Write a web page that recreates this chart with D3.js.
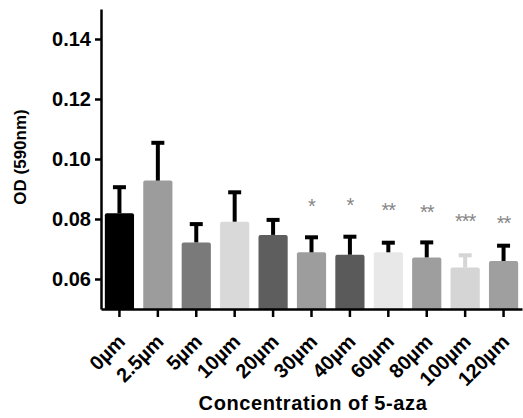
<!DOCTYPE html>
<html>
<head>
<meta charset="utf-8">
<script src="https://cdn.jsdelivr.net/npm/d3@7"></script>
<style>
    body { margin: 0; background: #fff; }
    text { font-family: "Liberation Sans", Arial, sans-serif; }
</style>
</head>
<body>
<div id="chart"></div>
<script>
const categories = ['0µm', '2.5µm', '5µm', '10µm', '20µm', '30µm', '40µm', '60µm', '80µm', '100µm', '120µm']
const means = [0.0819, 0.0928, 0.0722, 0.0791, 0.0747, 0.0689, 0.0681, 0.0689, 0.0672, 0.0638, 0.0660]
const errors = [0.0087, 0.0126, 0.0061, 0.0098, 0.0050, 0.0050, 0.0060, 0.0032, 0.0050, 0.0041, 0.0051]
const barColors = ['#000000', '#9c9c9c', '#7a7a7a', '#d9d9d9', '#5e5e5e', '#9d9d9d', '#5a5a5a', '#e8e8e8', '#9e9e9e', '#d5d5d5', '#9f9f9f']
const errColors = ['#000', '#000', '#000', '#000', '#000', '#000', '#000', '#000', '#000', '#d5d5d5', '#000']
// significance marks and where they sit (in OD units)
const stars = ['', '', '', '', '', '*', '*', '**', '**', '***', '**']
const starLevels = [0, 0, 0, 0, 0, 0.0858, 0.0860, 0.0844, 0.0838, 0.0808, 0.0800]
const yTicks = [0.06, 0.08, 0.10, 0.12, 0.14]

const width = 523
const height = 418
const margin = { top: 9, right: 1, bottom: 109, left: 101 }

const svg = d3.select('#chart')
    .append('svg')
    .attr('width', width)
    .attr('height', height)

const x = d3.scaleBand()
    .domain(categories)
    .range([margin.left, width - margin.right])
    .paddingInner(0.24)
    .paddingOuter(0.1)

const y = d3.scaleLinear()
    .domain([0.05, 0.15])
    .range([height - margin.bottom, margin.top])

const data = categories.map((c, i) => ({
    key: c, mean: means[i], err: errors[i], color: barColors[i],
    errColor: errColors[i], star: stars[i], starLevel: starLevels[i]
}))

// Bars, slightly rounded top corners
svg.selectAll('.bar')
    .data(data)
    .enter()
    .append('path')
    .attr('class', 'bar')
    .attr('fill', d => d.color)
    .attr('d', d => {
        const x0 = x(d.key), w = x.bandwidth()
        const top = y(d.mean), bottom = y(0.05), r = 2
        return `M${x0},${bottom}V${top + r}Q${x0},${top} ${x0 + r},${top}` +
            `H${x0 + w - r}Q${x0 + w},${top} ${x0 + w},${top + r}V${bottom}Z`
    })

// Error bars (upper only)
const err = svg.selectAll('.err')
    .data(data)
    .enter()
    .append('g')
    .attr('class', 'err')
    .attr('stroke', d => d.errColor)
    .attr('stroke-width', 4)

err.append('line')
    .attr('x1', d => x(d.key) + x.bandwidth() / 2)
    .attr('x2', d => x(d.key) + x.bandwidth() / 2)
    .attr('y1', d => y(d.mean))
    .attr('y2', d => y(d.mean + d.err))

err.append('line')
    .attr('x1', d => x(d.key) + x.bandwidth() / 2 - 6.5)
    .attr('x2', d => x(d.key) + x.bandwidth() / 2 + 6.5)
    .attr('y1', d => y(d.mean + d.err))
    .attr('y2', d => y(d.mean + d.err))

// Stars
svg.selectAll('.star')
    .data(data.filter(d => d.star))
    .enter()
    .append('text')
    .attr('class', 'star')
    .attr('x', d => x(d.key) + x.bandwidth() / 2)
    .attr('y', d => y(d.starLevel) + 11)
    .attr('text-anchor', 'middle')
    .attr('fill', '#858585')
    .style('font-size', '20px')
    .style('letter-spacing', '-1px')
    .text(d => d.star)

// Axes
const yAxis = svg.append('g')
    .attr('transform', `translate(${margin.left},0)`)
    .call(d3.axisLeft(y).tickValues(yTicks).tickFormat(d3.format('.2f'))
        .tickSize(6).tickSizeOuter(0).tickPadding(4))

const xAxis = svg.append('g')
    .attr('transform', `translate(0,${height - margin.bottom})`)
    .call(d3.axisBottom(x).tickSize(8).tickSizeOuter(0))

svg.selectAll('.domain').attr('stroke', '#000').attr('stroke-width', 2.5)
svg.selectAll('.tick line').attr('stroke', '#000').attr('stroke-width', 2.5)

yAxis.selectAll('.tick text')
    .style('font-size', '20px')
    .style('font-weight', 'bold')
    .attr('fill', '#000')

xAxis.selectAll('.tick text')
    .style('font-size', '20px')
    .style('font-weight', 'bold')
    .attr('fill', '#000')
    .attr('text-anchor', 'end')
    .attr('x', 0)
    .attr('y', 0)
    .attr('dy', 0)
    .attr('transform', 'translate(7,34) rotate(-45)')

// Axis titles
svg.append('text')
    .attr('transform', 'translate(26,157) rotate(-90)')
    .attr('text-anchor', 'middle')
    .style('font-size', '17px')
    .style('font-weight', 'bold')
    .text('OD (590nm)')

svg.append('text')
    .attr('x', 313)
    .attr('y', 410)
    .attr('text-anchor', 'middle')
    .style('font-size', '20px')
    .style('font-weight', 'bold')
    .style('letter-spacing', '0.6px')
    .text('Concentration of 5-aza')
</script>
</body>
</html>
